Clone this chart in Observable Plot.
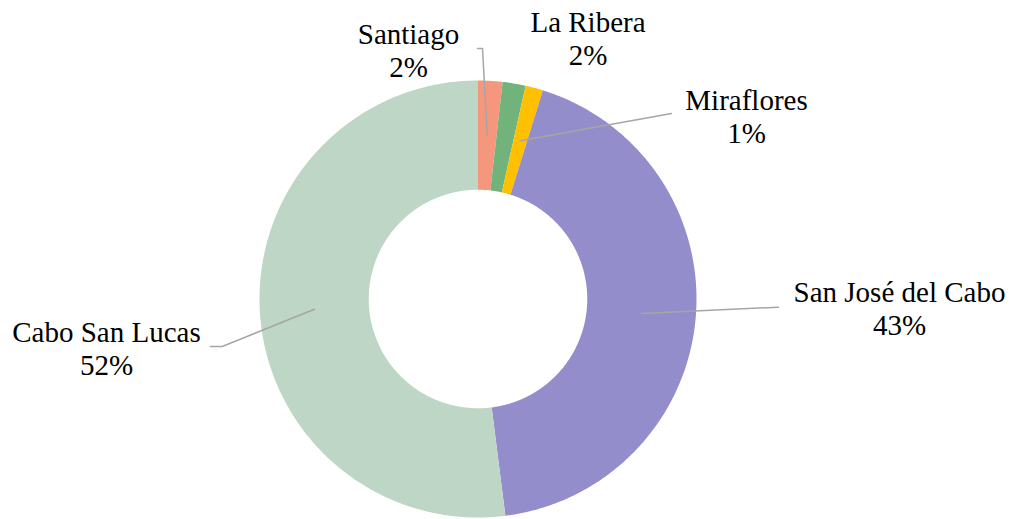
<!DOCTYPE html>
<html><head><meta charset="utf-8">
<script src="https://cdn.jsdelivr.net/npm/d3@7"></script>
<script src="https://cdn.jsdelivr.net/npm/@observablehq/plot@0.6"></script>
<style>
body{margin:0;background:#fff}
#chart svg text, #chart svg tspan{font-family:"Times New Roman","Liberation Serif",serif !important;}
</style>
</head><body><div id="chart"></div>
<script>
// Data
const categories = ["Santiago", "La Ribera", "Miraflores", "San José del Cabo", "Cabo San Lucas"];
const values = [1.8, 1.7, 1.3, 43.2, 52.0];
const colors = ["#F4977D", "#72B27B", "#FFC000", "#948DCB", "#BDD6C5"];

// Layout (pixels)
const W = 1011, H = 519, CX = 477.5, CY = 298.5, R = 218.5, HOLE = 0.5;
const FONT = "Times New Roman, Liberation Serif, serif";
const toX = px => (px - CX) / R;
const toY = py => (CY - py) / R;
const labelLayout = {
  "Santiago": {x: 408, y: 49, leader: [[482, 48], [477, 48]]},
  "La Ribera": {x: 587.5, y: 37, leader: null},
  "Miraflores": {x: 746, y: 115.5, leader: [[671, 113]]},
  "San José del Cabo": {x: 899, y: 307, leader: [[778, 306.7]]},
  "Cabo San Lucas": {x: 106, y: 347, leader: [[221.7, 346], [210, 346]]}
};

const total = d3.sum(values);
let acc = 0;
const slices = categories.map((name, i) => {
  const a0 = acc / total * 2 * Math.PI;
  acc += values[i];
  const a1 = acc / total * 2 * Math.PI;
  return {name, value: values[i], a0, a1, pct: Math.round(values[i] / total * 100) + "%"};
});

// Ring polygons
const ringPts = [];
for (const s of slices) {
  const n = Math.max(2, Math.ceil((s.a1 - s.a0) / (Math.PI / 360)));
  for (let k = 0; k <= n; k++) {
    const a = s.a0 + (s.a1 - s.a0) * k / n;
    ringPts.push({name: s.name, x: Math.sin(a), y: Math.cos(a)});
  }
  for (let k = n; k >= 0; k--) {
    const a = s.a0 + (s.a1 - s.a0) * k / n;
    ringPts.push({name: s.name, x: HOLE * Math.sin(a), y: HOLE * Math.cos(a)});
  }
}

// Leader lines
const leaderPts = [];
const rMid = (1 + HOLE) / 2;
for (const s of slices) {
  const L = labelLayout[s.name];
  if (!L.leader) continue;
  const am = (s.a0 + s.a1) / 2;
  leaderPts.push({name: s.name, x: rMid * Math.sin(am), y: rMid * Math.cos(am)});
  for (const [px, py] of L.leader) leaderPts.push({name: s.name, x: toX(px), y: toY(py)});
}

const labels = slices.map(s => ({
  x: toX(labelLayout[s.name].x),
  y: toY(labelLayout[s.name].y),
  text: s.name + "\n" + s.pct
}));

const chart = Plot.plot({
  width: W, height: H,
  margin: 0,
  style: {fontFamily: FONT, background: "#fff"},
  x: {domain: [toX(0), toX(W)], axis: null},
  y: {domain: [toY(H), toY(0)], axis: null},
  color: {domain: categories, range: colors},
  marks: [
    Plot.line(ringPts, {x: "x", y: "y", z: "name", fill: "name", stroke: "none", curve: "linear-closed"}),
    Plot.line(leaderPts, {x: "x", y: "y", z: "name", stroke: "#A6A6A6", strokeWidth: 1.5}),
    Plot.text(labels, {x: "x", y: "y", text: "text", fontSize: 29, lineHeight: 1.14,
      fontFamily: FONT, fill: "#000"})
  ]
});
document.getElementById("chart").appendChild(chart);
</script>
</body></html>
